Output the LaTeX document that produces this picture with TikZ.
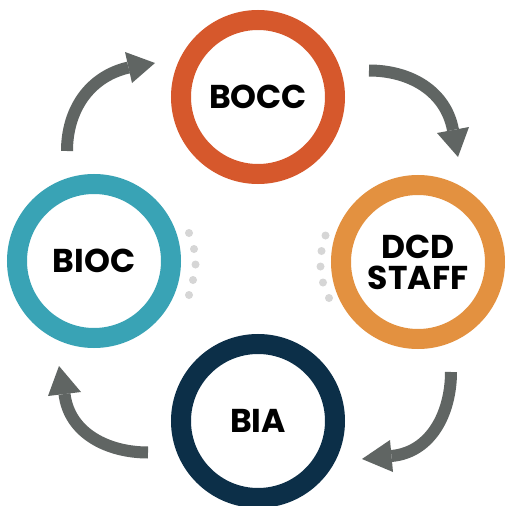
\documentclass[tikz,border=0pt]{standalone}
\usepackage{fontspec}
\setmainfont{Poppins}
\begin{document}
\begin{tikzpicture}[x=1pt,y=-1pt,
  ring/.style={circle,draw=#1,line width=20pt,minimum size=154pt,inner sep=0pt,
    font=\fontsize{33}{33}\selectfont\bfseries,text=black,align=center},
  shaft/.style={draw=arrowgray,line width=12pt},
  head/.style={fill=arrowgray},
  dot/.style={fill=dotgray}]
\definecolor{boccc}{RGB}{214,88,44}
\definecolor{dcdc}{RGB}{227,145,64}
\definecolor{biocc}{RGB}{57,163,181}
\definecolor{biac}{RGB}{12,47,72}
\definecolor{arrowgray}{RGB}{96,101,99}
\definecolor{dotgray}{RGB}{214,214,214}
\useasboundingbox (0,0) rectangle (507,506);
\fill[white] (0,0) rectangle (507,506);
% dots
\foreach \p in {(189,233),(194,249),(195.5,264.5),(193,280),(189,295),
                (325.5,235.5),(321.5,251),(320.5,266.5),(323,282.5),(329,298)}
  \fill[dot] \p circle (4);
% rings
\node[ring=boccc] (bocc) at (258,97) {BOCC};
\node[ring=dcdc] (dcd) at (418,262) {DCD\\[-2pt]STAFF};
\node[ring=biocc] (bioc) at (94,261) {BIOC};
\node[ring=biac] (bia) at (258,421) {BIA};
% arrow 1 (BIOC -> BOCC)
\coordinate (t1) at (67,151);
\coordinate (h1) at (128.5,67.5);
\draw[shaft] (t1) to[out=90,in=193] (h1);
\fill[head] (125,52) -- (155,63) -- (132,83) -- cycle;
% arrow 2 (BOCC -> DCD)
\coordinate (t2) at (369,70.5);
\coordinate (h2) at (453,130);
\draw[shaft] (t2) to[out=0,in=100.6] (h2);
\fill[head] (437,133) -- (458,157) -- (469,127) -- cycle;
% arrow 3 (DCD -> BIA)
\coordinate (t3) at (451,372);
\coordinate (h3) at (391.5,456);
\draw[shaft] (t3) to[out=270,in=5.3] (h3);
\fill[head] (390,440) -- (362,459) -- (393,472) -- cycle;
% arrow 4 (BIA -> BIOC)
\coordinate (t4) at (148,452.5);
\coordinate (h4) at (64.5,394);
\draw[shaft] (t4) to[out=180,in=276.9] (h4);
\fill[head] (48,396) -- (59,366) -- (81,392) -- cycle;
\end{tikzpicture}
\end{document}
